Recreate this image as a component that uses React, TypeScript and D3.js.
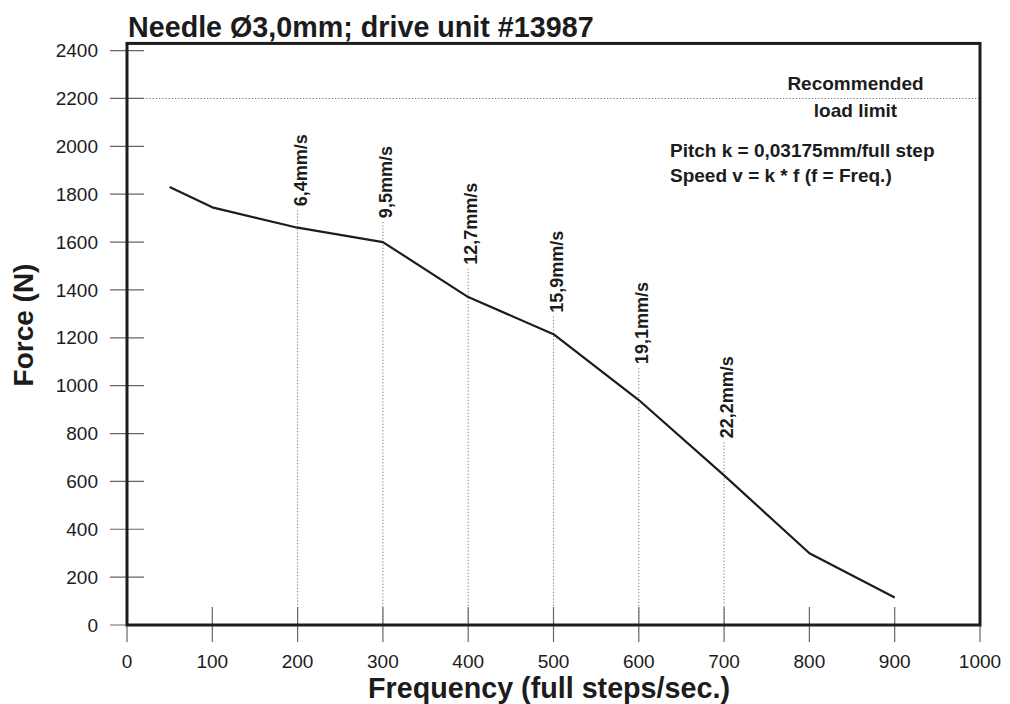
import * as d3 from "d3";

// curve
const frequency = [50, 100, 200, 300, 400, 500, 600, 700, 800, 900];
const force = [1830, 1745, 1660, 1600, 1370, 1215, 940, 625, 300, 115];

// speed markers (dotted verticals) and where their label ends, in N
const speedFreq = [200, 300, 400, 500, 600, 700];
const speedLabel = ["6,4mm/s", "9,5mm/s", "12,7mm/s", "15,9mm/s", "19,1mm/s", "22,2mm/s"];
const speedLabelForce = [1750, 1700, 1505, 1305, 1090, 780];

const xTicks = [0, 100, 200, 300, 400, 500, 600, 700, 800, 900, 1000];
const yTicks = [0, 200, 400, 600, 800, 1000, 1200, 1400, 1600, 1800, 2000, 2200, 2400];
const loadLimit = 2200;

const FONT = "'Liberation Sans', Arial, Helvetica, sans-serif";
const INK = "#1c1c1c";

export default function App() {
  const width = 1010,
    height = 704;

  const x = d3.scaleLinear().domain([0, 1000]).range([127, 980]);
  const y = d3.scaleLinear().domain([0, 2400]).range([625, 50.6]);

  const frameTop = y(2430);

  const line = d3
    .line<number>()
    .x((_, i) => x(frequency[i]))
    .y((d) => y(d));

  return (
    <svg
      width={width}
      height={height}
      style={{ position: "absolute", left: 0, top: 0, background: "#fff" }}
      fontFamily={FONT}
    >
      {/* title */}
      <text x={128} y={37} fontSize={28.7} fontWeight="bold" fill={INK}>
        Needle Ø3,0mm; drive unit #13987
      </text>

      {/* load limit */}
      <line
        x1={x(0)}
        x2={x(1000)}
        y1={y(loadLimit)}
        y2={y(loadLimit)}
        stroke="#666"
        strokeWidth={1}
        strokeDasharray="1.2,2"
      />

      {/* speed markers */}
      {speedFreq.map((f, i) => (
        <g key={f}>
          <line
            x1={x(f)}
            x2={x(f)}
            y1={y(speedLabelForce[i]) + 4}
            y2={y(0)}
            stroke="#777"
            strokeWidth={1}
            strokeDasharray="1.2,2"
          />
          <text
            transform={`translate(${x(f) + 9},${y(speedLabelForce[i])}) rotate(-90)`}
            fontSize={18}
            fontWeight="bold"
            fill={INK}
          >
            {speedLabel[i]}
          </text>
        </g>
      ))}

      {/* y ticks */}
      {yTicks.map((t) => (
        <g key={t}>
          <line x1={x(0) - 17} x2={x(0) + 17} y1={y(t)} y2={y(t)} stroke="#666" strokeWidth={1.2} />
          <text x={98} y={y(t)} dy="0.35em" textAnchor="end" fontSize={19} fill={INK}>
            {t}
          </text>
        </g>
      ))}

      {/* x ticks */}
      {xTicks.map((t) => (
        <g key={t}>
          <line x1={x(t)} x2={x(t)} y1={y(0) - 18} y2={y(0) + 17} stroke="#666" strokeWidth={1.2} />
          <text x={x(t)} y={668} textAnchor="middle" fontSize={19} fill={INK}>
            {t}
          </text>
        </g>
      ))}

      {/* frame */}
      <rect
        x={x(0)}
        y={frameTop}
        width={x(1000) - x(0)}
        height={y(0) - frameTop}
        fill="none"
        stroke={INK}
        strokeWidth={3}
      />

      {/* force curve */}
      <path d={line(force) ?? ""} fill="none" stroke={INK} strokeWidth={2.2} strokeLinejoin="round" />

      {/* annotations */}
      <g fontSize={19} fontWeight="bold" fill={INK}>
        <text x={855.5} y={90} textAnchor="middle">Recommended</text>
        <text x={855.5} y={117} textAnchor="middle">load limit</text>
        <text x={670} y={157}>Pitch k = 0,03175mm/full step</text>
        <text x={670} y={182}>Speed v = k * f (f = Freq.)</text>
      </g>

      {/* axis titles */}
      <text x={549} y={698} textAnchor="middle" fontSize={28.7} fontWeight="bold" fill={INK}>
        Frequency (full steps/sec.)
      </text>
      <text
        transform="translate(33,325) rotate(-90)"
        textAnchor="middle"
        fontSize={28}
        fontWeight="bold"
        fill={INK}
      >
        Force (N)
      </text>
    </svg>
  );
}
